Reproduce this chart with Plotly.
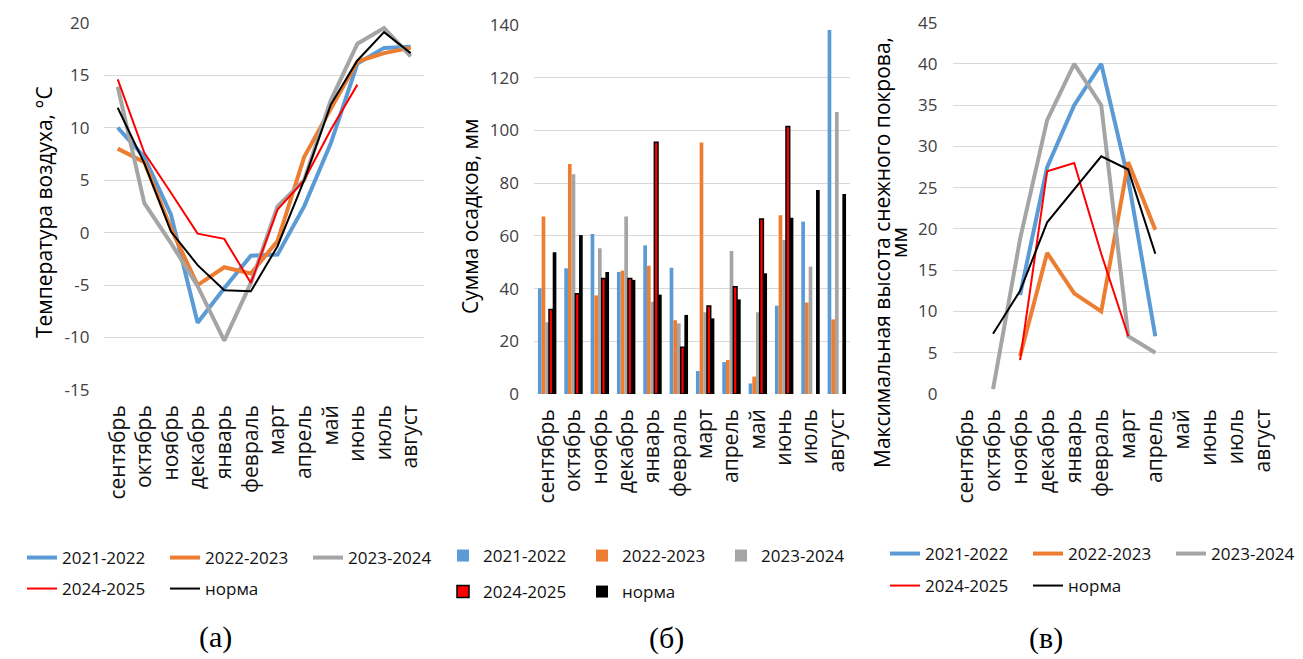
import plotly.graph_objects as go

W, H = 1303, 659

months = ["сентябрь", "октябрь", "ноябрь", "декабрь", "январь", "февраль",
          "март", "апрель", "май", "июнь", "июль", "август"]
series_names = ["2021-2022", "2022-2023", "2023-2024", "2024-2025", "норма"]

# (a) Air temperature, °C
temp_2021 = [10.0, 7.2, 1.7, -8.6, -5.3, -2.2, -2.1, 2.5, 8.5, 16.1, 17.6, 17.7]
temp_2022 = [8.0, 6.7, 0.4, -5.0, -3.3, -3.9, -0.8, 7.2, 11.8, 16.3, 17.1, 17.6]
temp_2023 = [13.9, 2.8, -1.0, -5.1, -10.3, -4.8, 2.5, 5.0, 12.6, 18.0, 19.5, 16.8]
temp_2024 = [14.6, 7.6, 3.8, -0.1, -0.6, -4.8, 2.2, 5.0, 9.8, 14.1, None, None]
temp_norm = [11.9, 6.6, 0.1, -3.1, -5.5, -5.6, -1.3, 5.0, 12.2, 16.4, 19.1, 17.1]
temp_ticks = [-15, -10, -5, 0, 5, 10, 15, 20]
temp_ticktext = ["-15", "-10", "-5", "0", "5", "10", "15", "20"]

# (б) Precipitation sum, mm
prec_2021 = [40.1, 47.7, 60.7, 46.3, 56.4, 47.9, 8.7, 12.1, 4.0, 33.5, 65.4, 138.1]
prec_2022 = [67.3, 87.3, 37.4, 46.8, 48.7, 28.0, 95.4, 12.9, 6.6, 67.8, 34.7, 28.3]
prec_2023 = [27.2, 83.4, 55.3, 67.3, 35.0, 26.8, 31.0, 54.3, 31.0, 58.4, 48.3, 107.0]
prec_2024 = [32.1, 38.0, 43.8, 43.8, 95.5, 17.7, 33.4, 40.7, 66.4, 101.5, None, None]
prec_norm = [53.8, 60.3, 46.3, 43.3, 37.7, 30.0, 28.7, 35.9, 45.8, 66.9, 77.4, 75.9]

# (в) Maximum snow depth, mm
snow_2021 = [None, None, 12.0, 27.5, 35.0, 40.0, 26.0, 7.0, None, None, None, None]
snow_2022 = [None, None, 4.6, 17.1, 12.2, 10.0, 28.1, 19.9, None, None, None, None]
snow_2023 = [None, 0.6, 18.8, 33.2, 40.0, 35.0, 7.0, 5.0, None, None, None, None]
snow_2024 = [None, None, 4.1, 27.0, 28.0, 17.0, 7.0, None, None, None, None, None]
snow_norm = [None, 7.3, 12.5, 20.8, 24.8, 28.8, 27.2, 17.0, None, None, None, None]

colors = ["#5B9BD5", "#ED7D31", "#A5A5A5", "#FF0000", "#000000"]
widths = [4, 4, 4, 2, 2]

FONT = "Open Sans"
fig = go.Figure()

temps = [temp_2021, temp_2022, temp_2023, temp_2024, temp_norm]
precs = [prec_2021, prec_2022, prec_2023, prec_2024, prec_norm]
snows = [snow_2021, snow_2022, snow_2023, snow_2024, snow_norm]

for i, (name, vals) in enumerate(zip(series_names, temps)):
    fig.add_trace(go.Scatter(x=months, y=vals, name=name, mode="lines",
                             line=dict(color=colors[i], width=widths[i]),
                             xaxis="x", yaxis="y",
                             legend="legend" if i < 3 else "legend2"))

for i, (name, vals) in enumerate(zip(series_names, precs)):
    mline = dict(color="#000000", width=1.5) if i == 3 else dict(width=0)
    fig.add_trace(go.Bar(x=months, y=vals, name=name,
                         marker=dict(color=colors[i], line=mline),
                         xaxis="x2", yaxis="y2",
                         legend="legend3" if i < 3 else "legend4"))

for i, (name, vals) in enumerate(zip(series_names, snows)):
    fig.add_trace(go.Scatter(x=months, y=vals, name=name, mode="lines",
                             line=dict(color=colors[i], width=widths[i]),
                             xaxis="x3", yaxis="y3",
                             legend="legend5" if i < 3 else "legend6"))

def px_x(p):
    return p / W

def px_y(p):
    return 1 - p / H

grid = "#D9D9D9"
xcommon = dict(type="category", categoryorder="array", categoryarray=months,
               range=[-0.5, 11.5], tickangle=-90, showgrid=False, zeroline=False,
               showline=False, ticks="", ticklabelstandoff=10, automargin=False,
               tickfont=dict(family=FONT, size=21, color="#111111"))
ycommon = dict(showgrid=True, gridcolor=grid, gridwidth=1.3, zeroline=False,
               showline=False, ticks="", ticklabelstandoff=14, automargin=False,
               tickfont=dict(family=FONT, size=17, color="#404040"))

fig.update_layout(
    width=W, height=H, margin=dict(l=0, r=0, t=0, b=0, autoexpand=False),
    paper_bgcolor="white", plot_bgcolor="white",
    font=dict(family=FONT, color="#000000"),
    barmode="group", bargap=0.3, bargroupgap=0,
    xaxis=dict(domain=[px_x(104.4), px_x(424)], anchor="y", **xcommon),
    yaxis=dict(domain=[px_y(390), px_y(22.7)], anchor="x", range=[-15, 20],
               tickmode="array", tickvals=temp_ticks, ticktext=temp_ticktext, **ycommon),
    xaxis2=dict(domain=[px_x(534), px_x(850)], anchor="y2", **xcommon),
    yaxis2=dict(domain=[px_y(394), px_y(25)], anchor="x2", range=[0, 140], dtick=20, **ycommon),
    xaxis3=dict(domain=[px_x(952.5), px_x(1277)], anchor="y3", **xcommon),
    yaxis3=dict(domain=[px_y(394), px_y(22.7)], anchor="x3", range=[0, 45], dtick=5, **ycommon),
)

def leg(xp, yp, ew=98):
    return dict(orientation="h", x=px_x(xp), y=px_y(yp), xanchor="left", yanchor="middle",
                font=dict(family=FONT, size=17, color="#111111"),
                entrywidth=ew, entrywidthmode="pixels", bgcolor="rgba(0,0,0,0)",
                traceorder="normal")

fig.update_layout(
    legend=leg(22, 558), legend2=leg(22, 589),
    legend3=leg(443, 556, 94), legend4=leg(443, 592, 94),
    legend5=leg(885, 554), legend6=leg(885, 586),
)

anns = [
    dict(text="Температура воздуха, °C", x=px_x(44), y=px_y(212), size=21),
    dict(text="Сумма осадков, мм", x=px_x(470), y=px_y(217), size=21),
    dict(text="Максимальная высота снежного покрова,", x=px_x(882), y=px_y(253), size=21),
    dict(text="мм", x=px_x(899), y=px_y(243), size=21),
]
for a in anns:
    fig.add_annotation(text=a["text"], x=a["x"], y=a["y"], xref="paper", yref="paper",
                       xanchor="center", yanchor="middle", textangle=-90, showarrow=False,
                       font=dict(family=FONT, size=a["size"], color="#000000"))

for txt, xp, yp in [("(а)", 215, 637), ("(б)", 666, 638), ("(в)", 1046, 638)]:
    fig.add_annotation(text=txt, x=px_x(xp), y=px_y(yp), xref="paper", yref="paper",
                       xanchor="center", yanchor="middle", showarrow=False,
                       font=dict(family="Liberation Serif", size=30, color="#000000"))

fig.write_html(
    "out.html",
    config={"displayModeBar": False},
    post_script="document.body.style.margin='0';document.body.style.overflow='hidden';",
)
